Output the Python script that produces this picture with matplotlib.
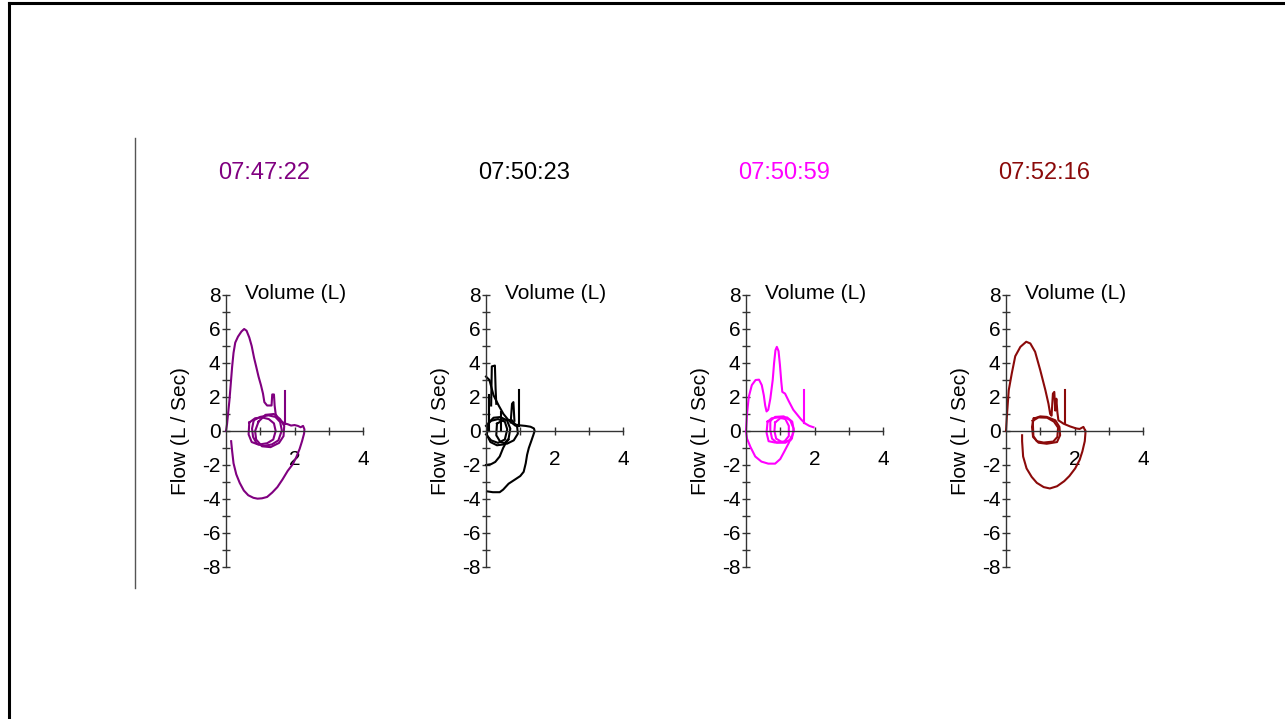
import matplotlib.pyplot as plt
from matplotlib.lines import Line2D

plt.rcParams['font.family'] = ['Liberation Sans', 'DejaVu Sans']

# panel titles and colours
times = ["07:47:22", "07:50:23", "07:50:59", "07:52:16"]
colors = ["#800080", "#000000", "#ff00ff", "#8b0a0a"]

x_ticks = [1, 2, 3, 4]
x_tick_labels = ["", "2", "", "4"]
y_ticks = list(range(-8, 9))
y_tick_labels = [str(v) if v % 2 == 0 else "" for v in y_ticks]

# traces, (volume L, flow L/s)
purple_main = [(0.15, -0.6), (0.18, -1.2), (0.22, -1.9), (0.3, -2.55), (0.4, -3.05),
               (0.52, -3.5), (0.65, -3.78), (0.8, -3.93), (0.92, -3.98), (1.05, -3.96),
               (1.2, -3.88), (1.35, -3.62), (1.5, -3.3), (1.65, -2.85), (1.8, -2.35),
               (1.95, -1.95), (2.05, -1.55), (2.15, -1.05), (2.22, -0.6), (2.28, -0.15),
               (2.29, 0.1), (2.25, 0.3), (2.18, 0.22), (2.1, 0.3), (2.0, 0.35),
               (1.9, 0.32), (1.8, 0.4), (1.7, 0.45), (1.6, 0.6), (1.5, 0.8),
               (1.45, 1.0), (1.42, 1.5), (1.4, 2.15), (1.35, 2.15), (1.33, 1.5),
               (1.2, 1.5), (1.12, 1.7), (1.08, 2.2), (1.02, 2.7), (0.95, 3.2),
               (0.88, 3.8), (0.82, 4.3), (0.75, 5.0), (0.68, 5.5), (0.6, 5.9),
               (0.53, 6.0), (0.45, 5.85), (0.35, 5.55), (0.27, 5.2), (0.22, 4.6),
               (0.18, 3.8), (0.14, 2.8), (0.1, 1.8), (0.06, 1.0), (0.03, 0.4), (0.0, 0.0)]
purple_spike = [(1.73, 0.4), (1.73, 2.35)]
purple_tidal1 = [(0.81, 0.63), (1.0, 0.83), (1.24, 0.92), (1.44, 0.83), (1.58, 0.53),
                 (1.63, 0.04), (1.53, -0.55), (1.34, -0.79), (1.1, -0.88), (0.9, -0.75),
                 (0.79, -0.35), (0.76, 0.14), (0.81, 0.63)]
purple_tidal2 = [(0.68, 0.5), (0.85, 0.75), (1.05, 0.8), (1.25, 0.7), (1.4, 0.45),
                 (1.45, 0.0), (1.38, -0.5), (1.2, -0.72), (0.95, -0.8), (0.75, -0.65),
                 (0.66, -0.2), (0.68, 0.5)]
purple_tidal3 = [(0.95, 0.55), (1.15, 0.95), (1.4, 1.0), (1.58, 0.7), (1.7, 0.3),
                 (1.68, -0.3), (1.55, -0.7), (1.3, -0.95), (1.05, -0.9), (0.88, -0.5),
                 (0.85, 0.0), (0.95, 0.55)]

black_outer = [(0.03, -3.55), (0.2, -3.6), (0.4, -3.6), (0.5, -3.45), (0.66, -3.1),
               (0.85, -2.85), (1.0, -2.65), (1.1, -2.4), (1.16, -1.9), (1.2, -1.4),
               (1.25, -1.0), (1.32, -0.6), (1.38, -0.25), (1.42, 0.0), (1.4, 0.15),
               (1.3, 0.25), (1.15, 0.3), (1.0, 0.33), (0.85, 0.38)]
black_inner = [(0.0, -2.0), (0.15, -1.95), (0.27, -1.82), (0.4, -1.5), (0.5, -1.0),
               (0.58, -0.7), (0.66, -0.5)]
black_top = [(0.0, 3.2), (0.1, 3.0), (0.22, 2.1), (0.37, 1.5), (0.51, 1.0),
             (0.66, 0.63), (0.85, 0.33)]
black_finger = [(0.15, 1.5), (0.17, 3.8), (0.26, 3.85), (0.28, 2.5), (0.3, 1.6)]
black_left = [(0.08, 0.0), (0.08, 2.1)]
black_spike2 = [(0.72, 0.5), (0.76, 1.6), (0.8, 1.7), (0.83, 0.6)]
black_spike3 = [(0.97, 0.3), (0.97, 2.4)]
black_spike4 = [(0.45, 0.0), (0.45, 1.1)]
black_tidal1 = [(0.03, 0.0), (0.08, 0.5), (0.22, 0.78), (0.42, 0.82), (0.61, 0.63),
                (0.71, 0.14), (0.66, -0.45), (0.51, -0.79), (0.32, -0.84), (0.13, -0.65),
                (0.03, -0.25), (0.03, 0.0)]
black_tidal2 = [(0.32, 0.43), (0.52, 0.67), (0.76, 0.63), (0.91, 0.24), (0.93, -0.16),
                (0.81, -0.55), (0.61, -0.75), (0.42, -0.65), (0.3, -0.25), (0.32, 0.43)]
black_tidal3 = [(0.0, 0.3), (0.15, 0.6), (0.35, 0.7), (0.55, 0.55), (0.62, 0.1),
                (0.55, -0.5), (0.35, -0.7), (0.15, -0.55), (0.0, -0.2)]

mag_top = [(0.0, 0.0), (0.03, 1.0), (0.08, 2.0), (0.17, 2.7), (0.28, 3.0), (0.38, 3.02),
           (0.46, 2.7), (0.52, 2.1), (0.56, 1.5), (0.6, 1.15), (0.65, 1.25), (0.71, 1.9),
           (0.78, 3.0), (0.82, 4.0), (0.86, 4.75), (0.9, 4.95), (0.95, 4.7), (0.99, 3.9),
           (1.03, 2.9), (1.06, 2.3), (1.14, 2.2), (1.25, 1.75), (1.38, 1.25), (1.5, 0.95),
           (1.6, 0.7), (1.72, 0.45), (1.85, 0.3), (1.97, 0.22)]
mag_spike = [(1.70, 0.45), (1.70, 2.4)]
mag_bottom = [(0.0, 0.0), (0.03, -0.45), (0.13, -0.94), (0.27, -1.5), (0.45, -1.8),
              (0.65, -1.92), (0.85, -1.92), (1.0, -1.65), (1.12, -1.2), (1.25, -0.7),
              (1.32, -0.35)]
mag_tidal1 = [(0.71, 0.6), (0.85, 0.83), (1.1, 0.86), (1.29, 0.63), (1.39, 0.14),
              (1.34, -0.45), (1.15, -0.69), (0.9, -0.69), (0.76, -0.45), (0.71, 0.04),
              (0.71, 0.6)]
mag_tidal2 = [(0.63, 0.55), (0.75, 0.75), (0.95, 0.8), (1.15, 0.7), (1.25, 0.3),
              (1.25, -0.3), (1.12, -0.62), (0.85, -0.68), (0.66, -0.6), (0.6, -0.1),
              (0.63, 0.55)]
mag_tidal3 = [(0.85, 0.5), (1.0, 0.75), (1.2, 0.8), (1.35, 0.55), (1.4, 0.0),
              (1.3, -0.55), (1.05, -0.65), (0.88, -0.45), (0.83, 0.0), (0.85, 0.5)]

red_top = [(0.0, 0.0), (0.03, 1.0), (0.08, 2.4), (0.17, 3.4), (0.27, 4.4), (0.42, 4.95),
           (0.59, 5.25), (0.71, 5.15), (0.85, 4.66), (1.0, 3.58), (1.15, 2.4), (1.24, 1.6),
           (1.29, 1.0), (1.33, 0.9), (1.37, 2.2), (1.41, 2.3), (1.44, 1.2), (1.47, 1.9),
           (1.5, 1.1), (1.53, 0.63), (1.68, 0.43), (1.87, 0.27), (2.05, 0.15),
           (2.15, 0.12), (2.26, 0.24), (2.31, 0.04)]
red_spike = [(1.73, 0.45), (1.73, 2.4)]
red_bottom = [(0.47, -0.25), (0.47, -0.6), (0.5, -1.5), (0.6, -2.2), (0.75, -2.7),
              (0.9, -3.05), (1.1, -3.3), (1.28, -3.38), (1.49, -3.25), (1.7, -2.95),
              (1.85, -2.65), (2.02, -2.2), (2.15, -1.7), (2.23, -1.2), (2.3, -0.6),
              (2.32, -0.1), (2.31, 0.04)]
red_tidal1 = [(0.81, 0.73), (1.0, 0.86), (1.19, 0.83), (1.44, 0.63), (1.56, 0.24),
              (1.58, -0.25), (1.49, -0.65), (1.19, -0.75), (0.95, -0.69), (0.79, -0.35),
              (0.76, 0.24), (0.81, 0.73)]
red_tidal2 = [(0.78, 0.6), (0.95, 0.8), (1.2, 0.78), (1.4, 0.55), (1.52, 0.2),
              (1.5, -0.35), (1.38, -0.62), (1.1, -0.68), (0.9, -0.6), (0.8, -0.3),
              (0.78, 0.6)]

panels = [
    [purple_main, purple_spike, purple_tidal1, purple_tidal2, purple_tidal3],
    [black_outer, black_inner, black_top, black_finger, black_left, black_spike2,
     black_spike3, black_spike4, black_tidal1, black_tidal2, black_tidal3],
    [mag_top, mag_spike, mag_bottom, mag_tidal1, mag_tidal2, mag_tidal3],
    [red_top, red_spike, red_bottom, red_tidal1, red_tidal2],
]

W, H = 1285, 719
axis_color = "#333333"


def setup_axes(ax):
    ax.set_xlim(0, 4)
    ax.set_ylim(-8, 8)
    ax.patch.set_visible(False)
    ax.spines["left"].set_position(("data", 0))
    ax.spines["bottom"].set_position(("data", 0))
    ax.spines["top"].set_visible(False)
    ax.spines["right"].set_visible(False)
    for s in ("left", "bottom"):
        ax.spines[s].set_color(axis_color)
        ax.spines[s].set_linewidth(1.0)
    ax.set_xticks(x_ticks, x_tick_labels)
    ax.set_yticks(y_ticks, y_tick_labels)
    ax.tick_params(direction="inout", length=6, width=1, color=axis_color,
                   labelcolor="black", labelsize=15)
    ax.tick_params(axis="x", pad=11)
    ax.tick_params(axis="y", pad=1)


def main():
    fig = plt.figure(figsize=(W / 100, H / 100), dpi=100)

    # frame and separator
    fig.add_artist(Line2D([9 / W, 9 / W], [0, 1 - 3 / H], transform=fig.transFigure,
                          color="black", lw=2.2))
    fig.add_artist(Line2D([9 / W, 1], [1 - 3 / H, 1 - 3 / H], transform=fig.transFigure,
                          color="black", lw=2.2))
    fig.add_artist(Line2D([135 / W, 135 / W], [1 - 588 / H, 1 - 138 / H],
                          transform=fig.transFigure, color="#555555", lw=1.0))

    for i, traces in enumerate(panels):
        left = (226 + 260 * i) / W
        ax = fig.add_axes([left, (H - 567) / H, 137 / W, 272 / H])
        setup_axes(ax)
        for tr in traces:
            vols = [p[0] for p in tr]
            flows = [p[1] for p in tr]
            ax.plot(vols, flows, color=colors[i], lw=1.5, clip_on=False)
        ax.text(0.55, 8.1, "Volume (L)", ha="left", va="center", fontsize=15)
        ax.text(-0.33, 0.5, "Flow (L / Sec)", transform=ax.transAxes, rotation=90,
                ha="center", va="center", fontsize=15)
        fig.text((264 + 260 * i) / W, 1 - 173 / H, times[i], color=colors[i],
                 ha="center", va="center", fontsize=17)

    fig.savefig("out.png", dpi=100, facecolor="white")


if __name__ == "__main__":
    main()
